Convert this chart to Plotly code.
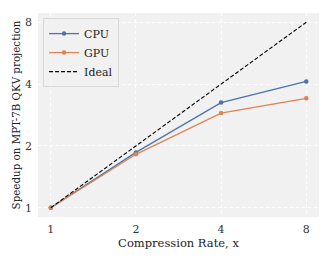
import plotly.graph_objects as go
import math

rates = [1, 2, 4, 8]
cpu = [1.0, 1.86, 3.25, 4.12]
gpu = [1.0, 1.82, 2.89, 3.41]
ideal = [1, 2, 4, 8]
tick_vals = [1, 2, 4, 8]
tick_text = ["1", "2", "4", "8"]

FONT = "DejaVu Serif, serif"

fig = go.Figure()
fig.add_trace(go.Scatter(x=rates, y=cpu, name="CPU", mode="lines+markers",
                         line=dict(color="#4c72b0", width=1.3), marker=dict(size=4.5)))
fig.add_trace(go.Scatter(x=rates, y=gpu, name="GPU", mode="lines+markers",
                         line=dict(color="#dd8452", width=1.3), marker=dict(size=4.5)))
fig.add_trace(go.Scatter(x=rates, y=ideal, name="Ideal", mode="lines",
                         line=dict(color="black", width=1.1, dash="4px,2px")))

rng = [math.log10(2 ** -0.15), math.log10(2 ** 3.15)]
axis_common = dict(type="log", range=rng, tickvals=tick_vals, ticktext=tick_text,
                   showgrid=True, gridcolor="white", griddash="dot", gridwidth=0.8,
                   zeroline=False, showline=False, ticks="", ticklen=0, automargin=False,
                   tickfont=dict(family=FONT, size=11, color="#333333"))
fig.update_xaxes(**axis_common, ticklabelstandoff=4,
                 title=dict(text="Compression Rate, x", standoff=2,
                            font=dict(family=FONT, size=11.5, color="#222222")))
fig.update_yaxes(**axis_common, ticklabelstandoff=5,
                 title=dict(text="Speedup on MPT-7B QKV projection", standoff=2,
                            font=dict(family=FONT, size=10.3, color="#222222")))

fig.update_layout(
    width=324, height=251,
    margin=dict(l=30, r=13, t=5, b=42),
    paper_bgcolor="white", plot_bgcolor="#f1f1f1",
    font=dict(family=FONT, size=11, color="#222222"),
    legend=dict(x=0.018, y=0.975, xanchor="left", yanchor="top",
                bgcolor="rgba(241,241,241,0.8)", bordercolor="#d8d8d8", borderwidth=1,
                font=dict(family=FONT, size=11), itemwidth=30, tracegroupgap=0),
    showlegend=True,
)
fig.write_html("out.html")
